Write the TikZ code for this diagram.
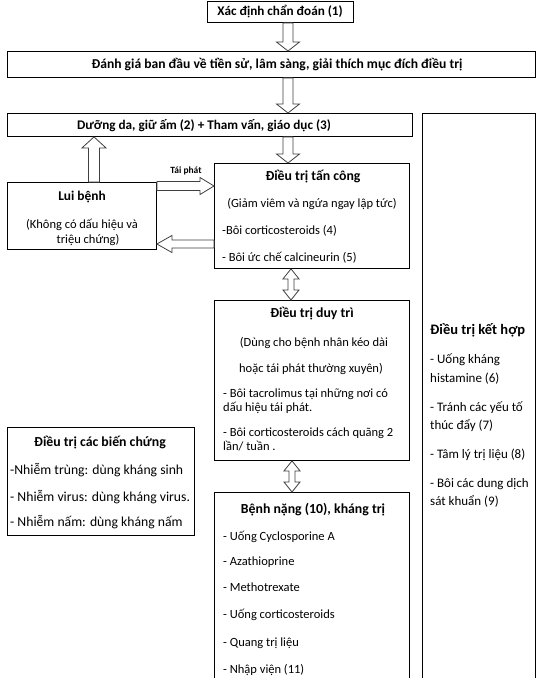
\documentclass[tikz,border=0pt]{standalone}
\usepackage{fontspec}
\setmainfont{Carlito}
\usetikzlibrary{calc}
% down block arrow: x, upper node, lower node
\newcommand{\dnarr}[3]{\draw[barr] let \p0=(#1,0), \p1=(#2.south), \p2=(#3.north) in
  (\x0-5pt,\y1) -- (\x0-5pt,\y2+9pt) -- (\x0-11.5pt,\y2+9pt) -- (\x0,\y2) -- (\x0+11.5pt,\y2+9pt) -- (\x0+5pt,\y2+9pt) -- (\x0+5pt,\y1) -- cycle;}
% up block arrow: x, lower node, upper node
\newcommand{\uparr}[3]{\draw[barr] let \p0=(#1,0), \p1=(#2.north), \p2=(#3.south) in
  (\x0-5.5pt,\y1) -- (\x0-5.5pt,\y2-11pt) -- (\x0-12pt,\y2-11pt) -- (\x0,\y2) -- (\x0+12pt,\y2-11pt) -- (\x0+5.5pt,\y2-11pt) -- (\x0+5.5pt,\y1) -- cycle;}
% right block arrow: y, left node, right node
\newcommand{\rarr}[3]{\draw[barr] let \p0=(0,#1), \p1=(#2.east), \p2=(#3.west) in
  (\x1,\y0+4.5pt) -- (\x2-14pt,\y0+4.5pt) -- (\x2-14pt,\y0+8.5pt) -- (\x2,\y0) -- (\x2-14pt,\y0-8.5pt) -- (\x2-14pt,\y0-4.5pt) -- (\x1,\y0-4.5pt) -- cycle;}
% left block arrow: y, right node, left node
\newcommand{\larr}[3]{\draw[barr] let \p0=(0,#1), \p1=(#2.west), \p2=(#3.east) in
  (\x1,\y0+4pt) -- (\x2+15pt,\y0+4pt) -- (\x2+15pt,\y0+8.5pt) -- (\x2,\y0) -- (\x2+15pt,\y0-8.5pt) -- (\x2+15pt,\y0-4pt) -- (\x1,\y0-4pt) -- cycle;}
% double vertical block arrow: x, upper node, lower node
\newcommand{\udarr}[3]{\draw[barr] let \p0=(#1,0), \p1=(#2.south), \p2=(#3.north) in
  (\x0,\y1) -- (\x0+8pt,\y1-10pt) -- (\x0+3pt,\y1-10pt) -- (\x0+3pt,\y2+10pt) -- (\x0+8pt,\y2+10pt) -- (\x0,\y2) -- (\x0-8pt,\y2+10pt) -- (\x0-3pt,\y2+10pt) -- (\x0-3pt,\y1-10pt) -- (\x0-8pt,\y1-10pt) -- cycle;}
\begin{document}
\begin{tikzpicture}[x=1pt,y=-1pt,
  box/.style={draw=black, line width=0.9pt, rectangle, inner sep=0pt, anchor=north west},
  lbl/.style={inner sep=0pt, text height=8pt, text depth=0pt, font=\fontsize{12.5}{14}\selectfont},
  lblb/.style={inner sep=0pt, text height=8.5pt, text depth=0pt, font=\fontsize{13.7}{15}\selectfont},
  lblk/.style={inner sep=0pt, text height=8.5pt, text depth=0pt, font=\fontsize{13}{15}\selectfont},
  ttl/.style={inner sep=0pt, text height=9pt, text depth=0pt, font=\fontsize{13.8}{15}\selectfont\bfseries},
  hdr/.style={inner sep=0pt, text height=8.5pt, text depth=0pt, font=\fontsize{13.2}{15}\selectfont\bfseries},
  small/.style={inner sep=0pt, text height=6pt, text depth=0pt, font=\fontsize{9.5}{11}\selectfont\bfseries},
  barr/.style={draw=black!75, line width=0.8pt, fill=white, line join=miter}]
\useasboundingbox (0,0) rectangle (541,678);
\clip (0,0) rectangle (541,678);
\fill[white] (0,0) rectangle (541,678);

% boxes
\node[box, minimum width=146pt, minimum height=21pt] (b1) at (207,1) {};
\node[box, minimum width=528pt, minimum height=26pt] (b2) at (7,51) {};
\node[box, minimum width=405pt, minimum height=23pt] (b3) at (7,113) {};
\node[box, minimum width=113pt, minimum height=600pt] (bk) at (422,113) {};
\node[box, minimum width=149pt, minimum height=67pt] (lui) at (7,182) {};
\node[box, minimum width=195pt, minimum height=105pt] (tc) at (214,163) {};
\node[box, minimum width=195pt, minimum height=160pt] (dt) at (214,300) {};
\node[box, minimum width=195pt, minimum height=220pt] (bn) at (214,492) {};
\node[box, minimum width=187pt, minimum height=108pt] (bc) at (7,427) {};

% texts
\node[hdr] (t1) at (280,11.5) {Xác định chẩn đoán (1)};
\node[hdr, font=\fontsize{13.6}{15}\selectfont\bfseries] (t2) at (277,64) {Đánh giá ban đầu về tiền sử, lâm sàng, giải thích mục đích điều trị};
\node[hdr] (t3) at (204,125) {Dưỡng da, giữ ấm (2) + Tham vấn, giáo dục (3)};
\node[small] (tp) at (186,170) {Tái phát};

\node[ttl, font=\fontsize{13.4}{15}\selectfont\bfseries] (l1) at (82,196) {Lui bệnh};
\node[lbl] (l2) at (82,224) {(Không có dấu hiệu và};
\node[lbl] (l3) at (88,239) {triệu chứng)};

\node[ttl] (c1) at (313,176) {Điều trị tấn công};
\node[lbl] (c2) at (312,203) {(Giảm viêm và ngứa ngay lập tức)};
\node[lbl, anchor=west] (c3) at (222,230) {-Bôi corticosteroids (4)};
\node[lbl, anchor=west] (c4) at (222,257) {- Bôi ức chế calcineurin (5)};

\node[ttl] (d1) at (312,313) {Điều trị duy trì};
\node[lbl] (d2) at (314,342) {(Dùng cho bệnh nhân kéo dài};
\node[lbl] (d3) at (311,368) {hoặc tái phát thường xuyên)};
\node[lbl, anchor=west] (d4) at (223,393) {- Bôi tacrolimus tại những nơi có};
\node[lbl, anchor=west] (d5) at (223,407) {dấu hiệu tái phát.};
\node[lbl, anchor=west] (d6) at (223,432) {- Bôi corticosteroids cách quãng 2};
\node[lbl, anchor=west] (d7) at (223,446) {lần/ tuần .};

\node[ttl] (n1) at (313,509) {Bệnh nặng (10), kháng trị};
\node[lbl, anchor=west] (n2) at (223,536) {- Uống Cyclosporine A};
\node[lbl, anchor=west] (n3) at (223,561) {- Azathioprine};
\node[lbl, anchor=west] (n4) at (223,587) {- Methotrexate};
\node[lbl, anchor=west] (n5) at (223,614) {- Uống corticosteroids};
\node[lbl, anchor=west] (n6) at (223,642) {- Quang trị liệu};
\node[lbl, anchor=west] (n7) at (223,669) {- Nhập viện (11)};

\node[ttl] (e1) at (100,442) {Điều trị các biến chứng};
\node[lblb, anchor=west] (e2) at (10,470) {-Nhiễm trùng: dùng kháng sinh};
\node[lblb, anchor=west] (e3) at (10,497) {- Nhiễm virus: dùng kháng virus.};
\node[lblb, anchor=west] (e4) at (10,522) {- Nhiễm nấm: dùng kháng nấm};

\node[ttl, font=\fontsize{14.5}{16}\selectfont\bfseries, anchor=west] (k1) at (430,330) {Điều trị kết hợp};
\node[lblk, anchor=west] (k2) at (430,359) {- Uống kháng};
\node[lblk, anchor=west] (k3) at (430,378) {histamine (6)};
\node[lblk, anchor=west] (k4) at (430,407) {- Tránh các yếu tố};
\node[lblk, anchor=west] (k5) at (430,425) {thúc đẩy (7)};
\node[lblk, anchor=west] (k6) at (430,454) {- Tâm lý trị liệu (8)};
\node[lblk, anchor=west] (k7) at (430,483) {- Bôi các dung dịch};
\node[lblk, anchor=west] (k8) at (430,501) {sát khuẩn (9)};

% arrows
\dnarr{288}{b1}{b2}
\dnarr{288}{b2}{b3}
\dnarr{288}{b3}{tc}
\uparr{94}{lui}{b3}
\rarr{186}{lui}{tc}
\larr{244}{tc}{lui}
\udarr{291}{tc}{dt}
\udarr{292}{dt}{bn}
\end{tikzpicture}
\end{document}
